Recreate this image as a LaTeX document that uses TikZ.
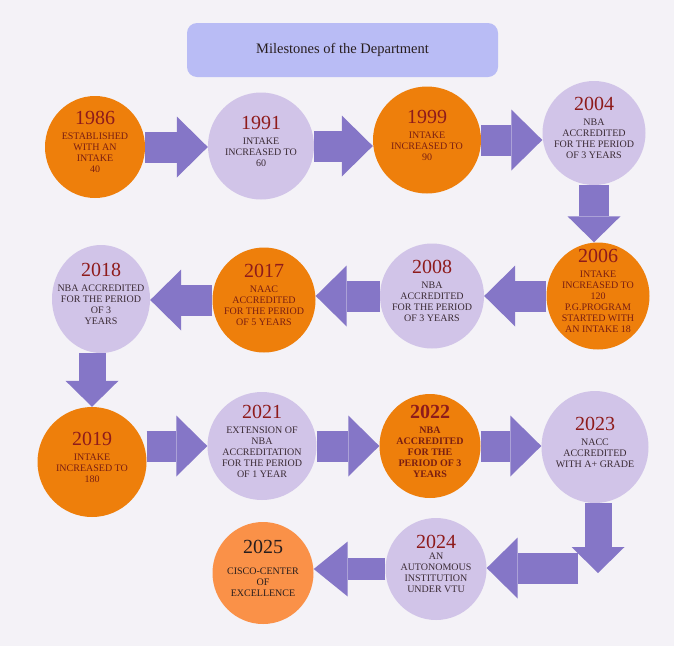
\documentclass[tikz,border=0pt]{standalone}
\usepackage{fontspec}
\setmainfont{Liberation Serif}
\usetikzlibrary{shapes,arrows.meta}
\definecolor{ms_bg}{RGB}{244,242,247}
\definecolor{ms_orange}{RGB}{238,127,11}
\definecolor{ms_peach}{RGB}{250,145,72}
\definecolor{ms_lilac}{RGB}{209,196,232}
\definecolor{ms_arrow}{RGB}{133,118,199}
\definecolor{ms_title}{RGB}{185,188,245}
\definecolor{ms_year}{RGB}{142,27,27}
\definecolor{ms_txto}{RGB}{122,30,18}
\definecolor{ms_txtl}{RGB}{59,43,53}
\definecolor{ms_dark}{RGB}{40,30,30}
\tikzstyle{mile}=[ellipse,inner sep=-20pt,minimum width=104pt,minimum height=106pt,
  align=center,text depth=10pt,font=\fontsize{10}{11}\selectfont]
\tikzstyle{orn}=[mile,fill=ms_orange,text=ms_txto]
\tikzstyle{lln}=[mile,fill=ms_lilac,text=ms_txtl]
\tikzstyle{fat}=[draw=ms_arrow,line width=31pt,
  -{Triangle[width=61pt,length=31pt,line width=0pt]}]
\tikzstyle{slim}=[draw=ms_arrow,line width=27pt,
  -{Triangle[width=53pt,length=26pt,line width=0pt]}]
\tikzstyle{narrow}=[draw=ms_arrow,line width=22pt,
  -{Triangle[width=55pt,length=34pt,line width=0pt]}]
\newcommand{\yearlbl}[1]{{\fontsize{20}{22}\selectfont\color{ms_year}#1}}

\begin{document}
\begin{tikzpicture}[x=1pt,y=-1pt]
    \fill[ms_bg] (0,0) rectangle (674,646);
    \useasboundingbox (0,0) rectangle (674,646);
    \node [fill=ms_title,rounded corners=10pt,minimum width=311pt,minimum height=54pt,
      font=\fontsize{14.5}{16}\selectfont,text=ms_dark] (head) at (342.5,50) {Milestones of the Department};
    % first row
    \node [style=orn,minimum width=100pt,minimum height=102pt] (n1986) at (95,147) {\yearlbl{1986}\\[4pt]ESTABLISHED\\WITH AN\\INTAKE\\40};
    \node [style=lln,minimum width=106pt,minimum height=107pt] (n1991) at (261,146) {\yearlbl{1991}\\[4pt]INTAKE\\INCREASED TO\\60};
    \node [style=orn,minimum width=108pt,minimum height=107pt] (n1999) at (427,140) {\yearlbl{1999}\\[4pt]INTAKE\\INCREASED TO\\90};
    \node [style=lln,minimum width=103pt,minimum height=104pt] (n2004) at (594,133) {\yearlbl{2004}\\[4pt]NBA\\ACCREDITED\\FOR THE PERIOD\\OF 3 YEARS};
    % second row
    \node [style=orn,minimum width=103pt,minimum height=107pt] (n2006) at (598,296) {\yearlbl{2006}\\[4pt]INTAKE\\INCREASED TO\\120\\P.G.PROGRAM\\STARTED WITH\\AN INTAKE 18};
    \node [style=lln,minimum width=104pt,minimum height=105pt] (n2008) at (432,296) {\yearlbl{2008}\\[4pt]NBA\\ACCREDITED\\FOR THE PERIOD\\OF 3 YEARS};
    \node [style=orn,minimum width=103pt,minimum height=105pt] (n2017) at (264,300) {\yearlbl{2017}\\[4pt]NAAC\\ACCREDITED\\FOR THE PERIOD\\OF 5 YEARS};
    \node [style=lln,minimum width=98pt,minimum height=108pt] (n2018) at (101,299) {\yearlbl{2018}\\[4pt]NBA ACCREDITED\\FOR THE PERIOD\\OF 3\\YEARS};
    % third row
    \node [style=orn,minimum width=109pt,minimum height=110pt] (n2019) at (92,462) {\yearlbl{2019}\\[4pt]INTAKE\\INCREASED TO\\180};
    \node [style=lln,minimum width=109pt,minimum height=108pt] (n2021) at (262,446) {\yearlbl{2021}\\[4pt]EXTENSION OF\\NBA\\ACCREDITATION\\FOR THE PERIOD\\OF 1 YEAR};
    \node [style=orn,minimum width=101pt,minimum height=104pt,font=\fontsize{10}{11}\selectfont\bfseries] (n2022) at (430,446) {\yearlbl{2022}\\[4pt]NBA\\ACCREDITED\\FOR THE\\PERIOD OF 3\\YEARS};
    \node [style=lln,minimum width=107pt,minimum height=112pt] (n2023) at (595,447) {\yearlbl{2023}\\[4pt]NACC\\ACCREDITED\\WITH A+ GRADE};
    % last row
    \node [style=lln,minimum width=101pt,minimum height=102pt] (n2024) at (436,569) {\yearlbl{2024}\\AN\\AUTONOMOUS\\INSTITUTION\\UNDER VTU};
    \node [style=orn,fill=ms_peach,text=ms_dark,minimum width=101pt,minimum height=102pt] (n2025) at (263,573) {{\fontsize{20}{22}\selectfont 2025}\\[10pt]CISCO-CENTER\\OF\\EXCELLENCE};
    \coordinate (bend) at (598,573);
    \coordinate (turn) at (578,568);
    \draw [style=fat] (n1986.east) to (n1986.east -| n1991.west);
    \draw [style=fat] (n1991.east) to (n1991.east -| n1999.west);
    \draw [style=fat] (n1999.east) to (n1999.east -| n2004.west);
    \draw [style=slim,line width=30pt] (n2004.south) to (n2004.south |- n2006.north);
    \draw [style=fat] (n2006.west) to (n2006.west -| n2008.east);
    \draw [style=fat] (n2008.west) to (n2008.west -| n2017.east);
    \draw [style=fat] (n2017.west) to (n2017.west -| n2018.east);
    \draw [style=slim] (n2019.north |- n2018.south) to (n2019.north);
    \draw [style=fat] (n2021.west -| n2019.east) to (n2021.west);
    \draw [style=fat] (n2021.east) to (n2021.east -| n2022.west);
    \draw [style=fat] (n2022.east) to (n2022.east -| n2023.west);
    \draw [style=slim] (n2023.south -| bend) to (bend);
    \draw [style=fat] (turn) to (turn -| n2024.east);
    \draw [style=narrow] (n2024.west) to (n2024.west -| n2025.east);
  \end{tikzpicture}
\end{document}
